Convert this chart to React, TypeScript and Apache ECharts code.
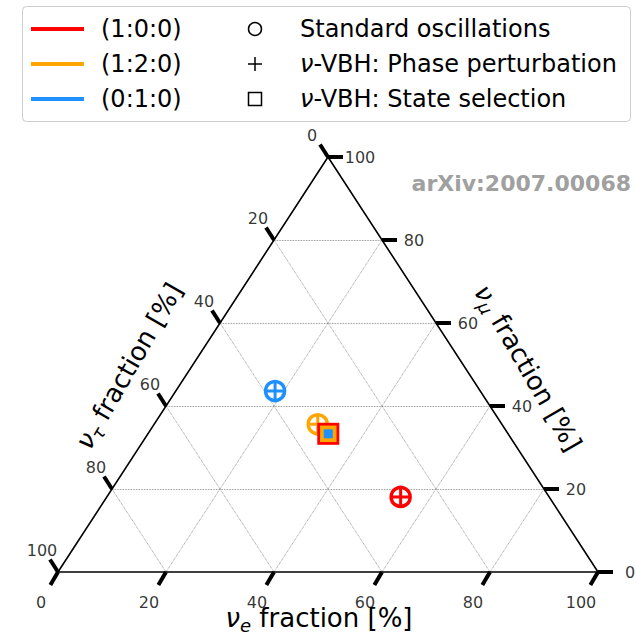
import React, { useEffect, useRef } from 'react';
import * as echarts from 'echarts';

// Sources (flavour ratio at source) and their colours
const sourceNames = ['(1:0:0)', '(1:2:0)', '(0:1:0)'];
const sourceColors = ['#ff0000', '#ffa500', '#1e90ff'];
// Flavour fractions at Earth: nu_e and nu_mu (nu_tau = 1 - e - mu)
const standardE = [0.544, 0.303, 0.184];
const standardMu = [0.181, 0.356, 0.436];
const phaseE = [0.544, 0.303, 0.184];
const phaseMu = [0.181, 0.356, 0.436];
const selectionE = [0.334, 0.334, 0.334];
const selectionMu = [0.333, 0.333, 0.333];
const selectionSizes = [22, 16.5, 9];
// axes
const tickValues = [0, 20, 40, 60, 80, 100];
const gridValues = [20, 40, 60, 80];
const markerNames = ['Standard oscillations', 'Phase perturbation', 'State selection'];

const FONT = 'DejaVu Sans';

// ternary (e, mu) -> cartesian in data units
const toXY = (e: number, mu: number) => [e + mu / 2, mu];

export default function App() {
  const ref = useRef<HTMLDivElement>(null);
  useEffect(() => {
    if (!ref.current) return;
    const chart = echarts.init(ref.current, undefined, { renderer: 'svg' });

    const gridLines: any[] = [];
    gridValues.forEach((v) => {
      const k = v / 100;
      gridLines.push({ coords: [[k / 2, k], [1 - k / 2, k]] });
      gridLines.push({ coords: [[k, 0], [(1 + k) / 2, 1 - k]] });
      gridLines.push({ coords: [[1 - k, 0], [(1 - k) / 2, 1 - k]] });
    });

    const ticks: any[] = [];
    const bottomLabels: any[] = [];
    const leftLabels: any[] = [];
    const rightLabels: any[] = [];
    tickValues.forEach((v) => {
      const k = v / 100;
      // bottom axis: nu_e
      ticks.push({ coords: [[k, 0], [k - 0.0141, -0.0313]] });
      bottomLabels.push([k, 0, v]);
      // left axis: nu_tau
      const lx = (1 - k) / 2;
      const ly = 1 - k;
      ticks.push({ coords: [[lx, ly], [lx - 0.0148, ly + 0.0301]] });
      leftLabels.push([lx, ly, v]);
      // right axis: nu_mu
      const rx = 1 - k / 2;
      ticks.push({ coords: [[rx, k], [rx + 0.0278, k]] });
      rightLabels.push([rx, k, v]);
    });

    const labelSeries = (data: any[], offset: number[]) => ({
      type: 'scatter',
      data,
      symbolSize: 0,
      silent: true,
      clip: false,
      itemStyle: { color: 'rgba(0,0,0,0)' },
      label: {
        show: true,
        position: 'inside',
        offset,
        formatter: (p: any) => String(p.value[2]),
        fontFamily: FONT,
        fontSize: 16,
        color: '#000',
        textBorderWidth: 0,
        textBorderColor: 'transparent',
      },
      z: 4,
    });

    const circleData = standardE.map((e, i) => ({
      value: toXY(e, standardMu[i]),
      itemStyle: { color: 'rgba(0,0,0,0)', borderColor: sourceColors[i], borderWidth: 3.5, opacity: 1 },
    }));
    const plusData = phaseE.map((e, i) => ({
      value: toXY(e, phaseMu[i]),
      itemStyle: { color: 'rgba(0,0,0,0)', borderColor: sourceColors[i], borderWidth: 3, opacity: 1 },
    }));
    const squareData = selectionE.map((e, i) => ({
      value: toXY(e, selectionMu[i]),
      symbolSize: selectionSizes[i],
      itemStyle: { color: sourceColors[i], opacity: 1 },
    }));

    const graphic: any[] = [];
    // legend frame
    graphic.push({
      type: 'rect',
      shape: { x: 22.5, y: 6.5, width: 608, height: 115, r: 4 },
      style: { fill: '#fff', stroke: '#cccccc', lineWidth: 1 },
      z: 10,
    });
    const rowY = [29, 64, 99];
    sourceNames.forEach((n, i) => {
      graphic.push({
        type: 'line',
        shape: { x1: 31, y1: rowY[i], x2: 84, y2: rowY[i] },
        style: { stroke: sourceColors[i], lineWidth: 4 },
        z: 11,
      });
      graphic.push({
        type: 'text',
        x: 101,
        y: rowY[i],
        style: { text: n, fontFamily: FONT, fontSize: 24, fill: '#000', align: 'left', verticalAlign: 'middle' },
        z: 11,
      });
    });
    // legend marker symbols
    graphic.push({
      type: 'circle',
      shape: { cx: 255, cy: rowY[0], r: 6.5 },
      style: { fill: 'none', stroke: '#000', lineWidth: 1.5 },
      z: 11,
    });
    graphic.push({
      type: 'line',
      shape: { x1: 248, y1: rowY[1], x2: 262, y2: rowY[1] },
      style: { stroke: '#000', lineWidth: 1.5 },
      z: 11,
    });
    graphic.push({
      type: 'line',
      shape: { x1: 255, y1: rowY[1] - 7, x2: 255, y2: rowY[1] + 7 },
      style: { stroke: '#000', lineWidth: 1.5 },
      z: 11,
    });
    graphic.push({
      type: 'rect',
      shape: { x: 248.5, y: rowY[2] - 6.5, width: 13, height: 13 },
      style: { fill: 'none', stroke: '#000', lineWidth: 1.5 },
      z: 11,
    });
    markerNames.forEach((n, i) => {
      graphic.push({
        type: 'text',
        x: 300,
        y: rowY[i],
        style: {
          text: i === 0 ? n : '{i|ν}{r|-VBH: ' + n + '}',
          rich: {
            i: { fontFamily: FONT, fontSize: 24, fontStyle: 'italic', fill: '#000' },
            r: { fontFamily: FONT, fontSize: 24, fill: '#000' },
          },
          fontFamily: FONT,
          fontSize: 24,
          fill: '#000',
          align: 'left',
          verticalAlign: 'middle',
        },
        z: 11,
      });
    });
    // watermark
    graphic.push({
      type: 'text',
      x: 631,
      y: 183,
      style: {
        text: 'arXiv:2007.00068',
        fontFamily: FONT,
        fontSize: 22,
        fontWeight: 'bold',
        fill: '#a0a0a0',
        align: 'right',
        verticalAlign: 'middle',
      },
      z: 11,
    });
    // axis titles
    const axisTitle = (sub: string, x: number, y: number, rot: number) => ({
      type: 'text',
      x,
      y,
      rotation: rot,
      style: {
        text: '{m|ν}{s|' + sub + '}{n| fraction [%]}',
        rich: {
          m: { fontFamily: FONT, fontSize: 26, fontStyle: 'italic', lineHeight: 32, fill: '#000' },
          s: { fontFamily: FONT, fontSize: 18, fontStyle: 'italic', lineHeight: 12, verticalAlign: 'bottom', fill: '#000' },
          n: { fontFamily: FONT, fontSize: 26, lineHeight: 32, fill: '#000' },
        },
        align: 'center',
        verticalAlign: 'middle',
      },
      z: 11,
    });
    graphic.push(axisTitle('e', 319, 618, 0));
    graphic.push(axisTitle('τ', 129, 366, Math.PI / 3));
    graphic.push(axisTitle('μ', 528, 368, -Math.PI / 3));

    chart.setOption({
      animation: false,
      backgroundColor: '#fff',
      grid: { left: 58, right: 38, top: 157, bottom: 64 },
      xAxis: { type: 'value', min: 0, max: 1, show: false },
      yAxis: { type: 'value', min: 0, max: 1, show: false },
      graphic,
      series: [
        {
          type: 'lines',
          coordinateSystem: 'cartesian2d',
          data: gridLines,
          silent: true,
          clip: false,
          lineStyle: { color: '#777', width: 0.8, type: 'dotted', opacity: 1 },
          z: 1,
        },
        {
          type: 'line',
          data: [[0, 0], [1, 0], [0.5, 1], [0, 0]],
          showSymbol: false,
          silent: true,
          clip: false,
          lineStyle: { color: '#000', width: 1.6 },
          z: 2,
        },
        {
          type: 'lines',
          coordinateSystem: 'cartesian2d',
          data: ticks,
          silent: true,
          clip: false,
          lineStyle: { color: '#000', width: 4, opacity: 1 },
          z: 3,
        },
        labelSeries(bottomLabels, [-17, 30]),
        labelSeries(leftLabels, [-16, -22]),
        labelSeries(rightLabels, [32, 0]),
        {
          name: 'Standard oscillations',
          type: 'scatter',
          symbol: 'circle',
          symbolSize: 19,
          clip: false,
          data: circleData,
          z: 5,
        },
        {
          name: 'Phase perturbation',
          type: 'scatter',
          symbol: 'path://M0,10L20,10M10,0L10,20',
          symbolSize: 19,
          clip: false,
          data: plusData,
          z: 6,
        },
        {
          name: 'State selection',
          type: 'scatter',
          symbol: 'rect',
          clip: false,
          data: squareData,
          z: 7,
        },
      ],
    });
    return () => chart.dispose();
  }, []);
  return (
    <div
      ref={ref}
      style={{ position: 'fixed', left: 0, top: 0, width: 636, height: 636 }}
    />
  );
}
